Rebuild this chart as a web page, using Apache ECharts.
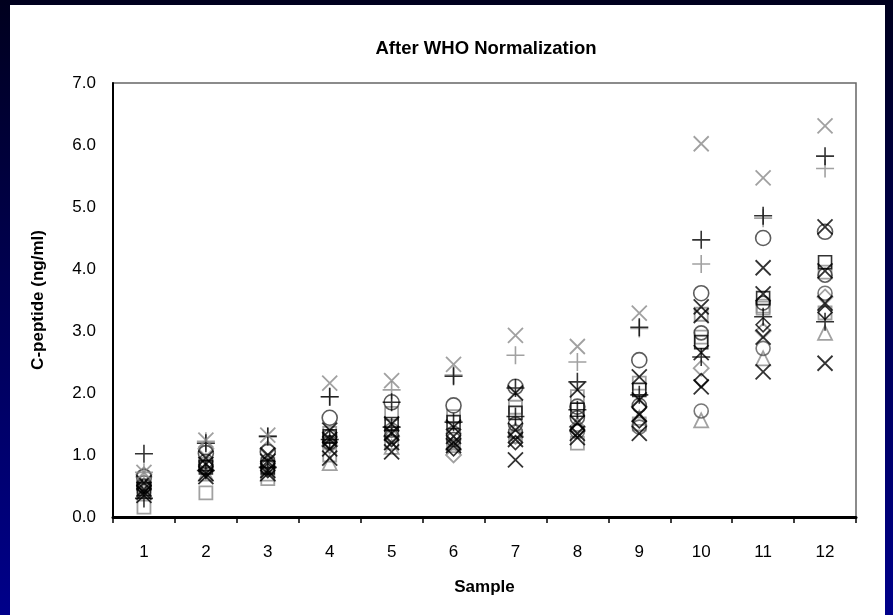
<!DOCTYPE html>
<html>
<head>
<meta charset="utf-8">
<script src="https://cdn.jsdelivr.net/npm/echarts@6/dist/echarts.min.js"></script>
<style>
  html, body { margin: 0; padding: 0; }
  body { width: 893px; height: 615px; position: relative; overflow: hidden;
         background: linear-gradient(to bottom, #00001e 0%, #000050 45%, #00008a 100%); }
  #paper { position: absolute; left: 10px; top: 5px; width: 875px; height: 610px; background: #ffffff; }
  #chart { position: absolute; left: 0; top: 0; width: 893px; height: 615px; }
</style>
</head>
<body>
<div id="paper"></div>
<div id="chart"></div>
<script>
// ---- data ----
const categories = ['1','2','3','4','5','6','7','8','9','10','11','12'];
const yTickValues = [0, 1, 2, 3, 4, 5, 6, 7];

const grayCross   = [0.72, 1.24, 1.32, 2.16, 2.20, 2.46, 2.93, 2.75, 3.29, 6.02, 5.47, 6.31];
const grayPlus    = [0.72, 1.22, 1.30, 1.94, 2.05, 2.29, 2.61, 2.50, 3.04, 4.08, 4.82, 5.62];
const blackPlusA  = [1.02, 1.19, 1.30, 1.94, 1.85, 2.27, 2.08, 2.18, 3.06, 4.47, 4.86, 5.82];
const blackPlusB  = [0.30, 0.75, 0.80, 1.25, 1.45, 1.53, 1.62, 1.73, 1.97, 2.58, 3.23, 3.15];
const circleA     = [0.65, 1.03, 1.05, 1.60, 1.85, 1.80, 2.10, 1.78, 2.53, 3.61, 4.50, 4.60];
const circleB     = [0.55, 0.80, 0.80, 1.30, 1.40, 1.35, 1.37, 1.38, 1.45, 1.71, 2.72, 3.61];
const circleC     = [0.50, 0.90, 0.90, 1.20, 1.30, 1.25, 1.50, 1.60, 1.80, 2.97, 3.45, 3.90];
const graySquareA = [0.16, 0.39, 0.62, 1.00, 1.20, 1.15, 1.30, 1.19, 1.50, 2.90, 3.37, 3.29];
const graySquareB = [0.50, 0.85, 0.85, 1.35, 1.67, 1.62, 1.77, 1.94, 2.16, 3.27, 3.40, 3.95];
const blackSquare = [0.45, 0.80, 0.80, 1.30, 1.50, 1.53, 1.68, 1.73, 2.05, 2.82, 3.53, 4.11];
const grayTri     = [0.42, 0.70, 0.70, 0.87, 1.13, 1.20, 1.40, 1.50, 1.60, 1.56, 2.56, 2.97];
const grayDiamond = [0.68, 1.10, 1.10, 1.15, 1.30, 1.00, 1.30, 1.45, 1.78, 2.40, 3.00, 3.55];
const blackDiamond= [0.50, 0.75, 0.75, 1.20, 1.25, 1.10, 1.20, 1.40, 1.55, 2.20, 3.10, 3.30];
const blackCrossA = [0.55, 0.95, 1.00, 1.40, 1.50, 1.45, 2.00, 2.05, 2.26, 3.39, 4.02, 4.68];
const blackCrossB = [0.45, 0.85, 0.90, 1.25, 1.35, 1.30, 1.40, 1.52, 1.89, 2.65, 3.60, 3.97];
const blackCrossC = [0.35, 0.65, 0.70, 0.95, 1.05, 1.15, 0.92, 1.28, 1.35, 2.10, 2.34, 2.48];
const blackCrossD = [0.40, 0.70, 0.75, 1.10, 1.20, 1.20, 1.25, 1.35, 1.65, 3.25, 2.90, 3.45];

// ---- marker styles ----
const PLUS = 'path://M0,10L20,10M10,0L10,20';
const CROSS = 'path://M0,0L20,20M20,0L0,20';
const GRAY = '#8a8a8a';
const BLACK = '#000000';
const DARK = '#333333';
const FONT = '"Liberation Sans", Arial, sans-serif';

function mk(name, data, symbol, color, size, width) {
  return {
    name: name, type: 'scatter', data: data, symbol: symbol, symbolSize: size,
    itemStyle: { color: 'transparent', borderColor: color, borderWidth: width || 1.5 },
    silent: true
  };
}

const series = [
  mk('Gray squares A', graySquareA, 'rect', GRAY, 13, 1.8),
  mk('Gray squares B', graySquareB, 'rect', GRAY, 13, 1.8),
  mk('Gray triangles', grayTri, 'triangle', GRAY, 14, 1.8),
  mk('Gray diamonds', grayDiamond, 'diamond', GRAY, 15, 1.8),
  mk('Circles B', circleB, 'circle', '#555555', 14, 1.6),
  mk('Circles C', circleC, 'circle', DARK, 14, 1.6),
  mk('Circles A', circleA, 'circle', DARK, 15, 1.6),
  mk('Black squares', blackSquare, 'rect', BLACK, 13, 1.6),
  mk('Black diamonds', blackDiamond, 'diamond', BLACK, 14, 1.6),
  mk('Black crosses D', blackCrossD, CROSS, BLACK, 15, 1.8),
  mk('Black crosses C', blackCrossC, CROSS, BLACK, 15, 1.8),
  mk('Black crosses B', blackCrossB, CROSS, BLACK, 15, 1.8),
  mk('Black crosses A', blackCrossA, CROSS, BLACK, 15, 1.8),
  mk('Black plus B', blackPlusB, PLUS, BLACK, 18, 1.6),
  mk('Gray plus', grayPlus, PLUS, GRAY, 18, 1.6),
  mk('Black plus A', blackPlusA, PLUS, BLACK, 18, 1.6),
  mk('Gray crosses', grayCross, CROSS, GRAY, 15, 1.8)
];

const chart = echarts.init(document.getElementById('chart'), null, { renderer: 'canvas' });
chart.setOption({
  animation: false,
  backgroundColor: 'transparent',
  textStyle: { fontFamily: FONT },
  title: {
    text: 'After WHO Normalization',
    left: 481, top: 34, textAlign: 'center',
    textStyle: { fontSize: 18.5, fontWeight: 'bold', color: '#000', fontFamily: FONT }
  },
  grid: { left: 113, right: 37, top: 83, bottom: 98, show: true, borderColor: '#666', borderWidth: 1.5, backgroundColor: 'transparent' },
  xAxis: {
    type: 'category', data: categories, boundaryGap: true,
    name: 'Sample', nameLocation: 'middle', nameGap: 62,
    nameTextStyle: { fontSize: 17, fontWeight: 'bold', color: '#000', fontFamily: FONT },
    axisLine: { lineStyle: { color: '#000', width: 3 } },
    axisTick: { show: true, length: 6, lineStyle: { color: '#000', width: 1.5 } },
    axisLabel: { fontSize: 17, color: '#000', margin: 27, fontFamily: FONT },
    splitLine: { show: false }
  },
  yAxis: {
    type: 'value', min: yTickValues[0], max: yTickValues[yTickValues.length - 1], interval: 1,
    name: 'C-peptide (ng/ml)', nameLocation: 'middle', nameGap: 66, nameRotate: 90,
    nameTextStyle: { fontSize: 17, fontWeight: 'bold', color: '#000', fontFamily: FONT },
    axisLine: { show: true, lineStyle: { color: '#000', width: 2 } },
    axisTick: { show: false },
    axisLabel: { fontSize: 17, color: '#000', margin: 17, fontFamily: FONT, formatter: function (v) { return v.toFixed(1); } },
    splitLine: { show: false }
  },
  series: series
});
</script>
</body>
</html>
